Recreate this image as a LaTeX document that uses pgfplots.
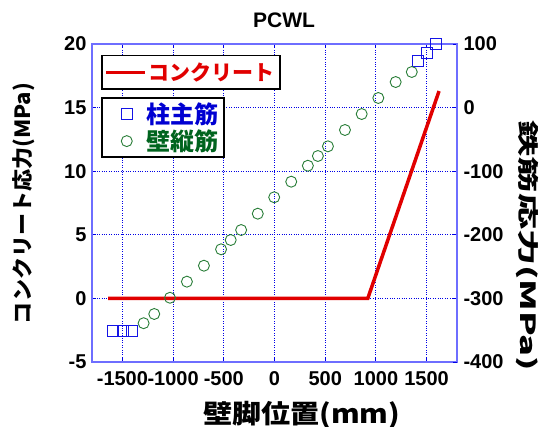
\documentclass[border=0pt]{standalone}
\usepackage{graphicx}
\usepackage{pgfplots}
\pgfplotsset{compat=1.18}
\usepackage{fontspec}
\setmainfont{Liberation Sans}
\newfontfamily\jp{Noto Sans CJK JP}
\definecolor{frameblue}{RGB}{110,110,255}
\definecolor{gridblue}{RGB}{0,0,230}
\definecolor{cred}{RGB}{225,0,0}
\definecolor{mblue}{RGB}{20,20,230}
\definecolor{cgreen}{RGB}{40,125,55}
\definecolor{tgreen}{RGB}{0,100,30}
\definecolor{tblue}{RGB}{0,0,210}
\begin{document}
\begin{tikzpicture}[x=1pt,y=1pt]
\useasboundingbox (0,0) rectangle (541,427);
\begin{axis}[
 scale only axis, width=365pt, height=318pt,
 at={(92pt,65pt)}, anchor=south west,
 xmin=-1800, xmax=1800, ymin=-5, ymax=20,
 xtick={-1500,-1000,-500,0,500,1000,1500},
 xticklabels={-1500,-1000,-500,0,500,1000,1500},
 ytick={-5,0,5,10,15,20},
 yticklabels={-5,0,5,10,15,20},
 ytick pos=left,
 xmajorgrids=true, ymajorgrids=true,
 grid style={draw=gridblue, dotted, line width=0.9pt},
 axis line style={frameblue, line width=1.2pt},
 xtick style={draw=gridblue, line width=0.8pt},
 ytick style={draw=gridblue, line width=0.8pt},
 major tick length=4pt, tick align=inside,
 ticklabel style={font=\bfseries\fontsize{20}{20}\selectfont},
 xticklabel style={yshift=-6pt},
 yticklabel style={xshift=-2pt},
 legend style={at={(0.0247,0.9654)}, anchor=north west, draw=black,
   line width=1.5pt, fill=white,
   font=\jp\bfseries\fontsize{21}{21}\selectfont,
   inner xsep=3pt, inner ysep=5pt},
 legend image code/.code={\draw[#1, line width=3pt] (0pt,0pt) -- (39pt,0pt);},
]
\addplot[cred, line width=3.5pt] coordinates {(-1640,0) (920,0) (1623,16.3)};
\addlegendentry{\textcolor{cred}{コンクリート}}
\end{axis}
\begin{axis}[
 scale only axis, width=365pt, height=318pt,
 at={(92pt,65pt)}, anchor=south west,
 xmin=-1800, xmax=1800, ymin=-400, ymax=100,
 axis x line=none, axis y line*=right,
 ytick={-400,-300,-200,-100,0,100},
 yticklabels={-400,-300,-200,-100,0,100},
 axis line style={frameblue, line width=1.2pt},
 ytick style={draw=gridblue, line width=0.8pt},
 major tick length=4pt, tick align=inside,
 ticklabel style={font=\bfseries\fontsize{20}{20}\selectfont},
 yticklabel style={xshift=3pt},
 clip=false,
 legend style={at={(0.0247,0.8333)}, anchor=north west, draw=black,
   line width=1.5pt, fill=white,
   font=\jp\bfseries\fontsize{24}{24}\selectfont,
   inner xsep=3pt, inner ysep=3pt, row sep=1pt,
   /tikz/every odd column/.append style={column sep=6pt}},
 legend image code/.code={\path[draw=none] (0pt,0pt) -- (34pt,0pt); \draw[#1] plot coordinates {(22pt,0pt)};},
]
\addplot[only marks, mark=square, mark size=5.5pt, mblue, mark options={line width=0.8pt, solid}]
 coordinates {(-1590,-351) (-1500,-351) (-1410,-351) (1410,74) (1500,86) (1590,100)};
\addlegendentry{\textcolor{tblue}{柱主筋}}
\addplot[only marks, mark=o, mark size=5.5pt, cgreen, mark options={line width=0.9pt, solid}]
 coordinates {(-1291,-339) (-1186,-324.5) (-1031,-299) (-864,-273.7) (-696,-248.6)
 (-527,-222.8) (-432,-208.2) (-329,-192.5) (-165,-166.8) (-3,-141)
 (165,-116.5) (329,-91.4) (428,-76.1) (527,-60.9) (695,-35.2)
 (860,-10.1) (1024,15.1) (1195,40.2) (1354,56)};
\addlegendentry{\textcolor{tgreen}{壁縦筋}}
\end{axis}
\node[font=\bfseries\fontsize{21}{21}\selectfont, inner sep=0pt] at (284,406.5) {PCWL};
\node[rotate=90, font=\jp\bfseries\fontsize{21}{21}\selectfont, inner sep=0pt] at (24,223.5) {\scalebox{1.05}[1]{コンクリート応力(MPa)}};
\node[rotate=-90, font=\jp\bfseries\fontsize{21}{21}\selectfont, inner sep=0pt] at (527,181) {\scalebox{1.72}[1]{鉄筋応力(MPa)}};
\node[font=\jp\bfseries\fontsize{26}{26}\selectfont, inner sep=0pt] at (301.7,12) {\scalebox{1.12}[1]{壁脚位置(mm)}};
\end{tikzpicture}
\end{document}
